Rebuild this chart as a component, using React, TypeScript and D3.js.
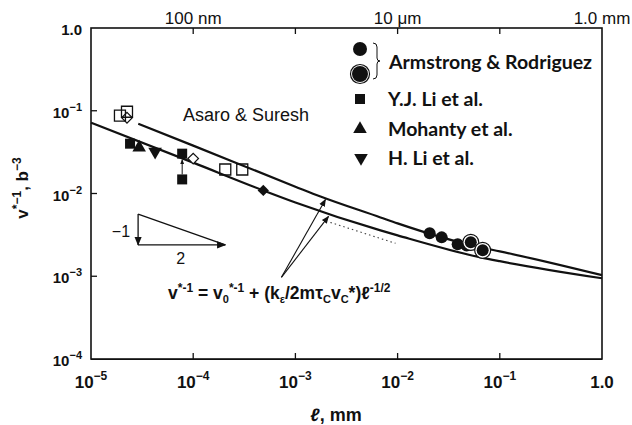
import React from 'react';
import * as d3 from 'd3';

const W = 632;
const H = 425;

// values: [ℓ (mm), v*^-1 (b^-3)]
const armstrongFilled = [[0.0206, 0.0033], [0.027, 0.00295], [0.0387, 0.00243], [0.0474, 0.00236]];
const armstrongRinged = [[0.052, 0.00257], [0.068, 0.00206]];
const yjLi = [[2.41e-5, 0.04], [7.8e-5, 0.0303], [7.8e-5, 0.0148]];
const mohanty = [[2.96e-5, 0.0358]];
const hLi = [[4.24e-5, 0.0321]];
const asaroSquares = [[1.92e-5, 0.0871], [2.25e-5, 0.0973], [2.06e-4, 0.0195], [3.02e-4, 0.0195]];
const asaroDiamonds = [[2.25e-5, 0.0823], [1.0e-4, 0.0264]];
const filledDiamonds = [[4.85e-4, 0.0109]];

const upperCurve = [[2.9e-5, 0.0697], [1e-4, 0.0379], [1e-3, 0.0121], [1.76e-3, 0.0092], [6.8e-3, 0.00514],
  [1e-2, 0.00435], [0.065, 0.00223], [0.1, 0.002], [1.0, 0.00103]];
const lowerCurve = [[1e-5, 0.0717], [1e-4, 0.0236], [4.85e-4, 0.0109], [1e-3, 0.0078], [6.8e-3, 0.00358],
  [1e-2, 0.00312], [0.065, 0.00169], [0.1, 0.00152], [1.0, 0.000946]];

// annotation lines, also in data units
const arrowFrom = [7.3e-4, 9.7e-4];
const arrowTips = [[1.97e-3, 8.47e-3], [2.11e-3, 5.28e-3]];
const dottedLine = [[2.2e-3, 4.47e-3], [9.55e-3, 2.5e-3]];
const slopeTri = { top: [2.89e-5, 0.00565], corner: [2.89e-5, 0.00239], right: [2.06e-4, 0.00239] };

const xTicks = [1e-5, 1e-4, 1e-3, 1e-2, 1e-1, 1];
const xTickLabels = [['10', '−5'], ['10', '−4'], ['10', '−3'], ['10', '−2'], ['10', '−1'], ['1.0', '']];
const yTicks = [1, 1e-1, 1e-2, 1e-3, 1e-4];
const yTickLabels = [['1.0', ''], ['10', '−1'], ['10', '−2'], ['10', '−3'], ['10', '−4']];
const innerXTicks = [1e-4, 1e-3, 1e-2, 1e-1];
const innerYTicks = [1e-1, 1e-2, 1e-3];
const topLabels = [[1e-4, '100 nm'], [1e-2, '10 μm'], [1, '1.0 mm']];

const legendNames = ['Armstrong & Rodriguez', 'Y.J. Li et al.', 'Mohanty et al.', 'H. Li et al.'];

const ARIAL = "'Liberation Sans', Arial, sans-serif";

export default function App() {
  const x = d3.scaleLog().domain([1e-5, 1]).range([91, 602]);
  const y = d3.scaleLog().domain([1e-4, 1]).range([359, 28]);
  const line = d3.line<number[]>().x(d => x(d[0])).y(d => y(d[1])).curve(d3.curveMonotoneX);

  const sq = (s: number) => d3.symbol().type(d3.symbolSquare).size(s * s)()!;
  const tri = d3.symbol().type(d3.symbolTriangle).size(80)()!;
  const ink = '#111';

  const pt = (d: number[]) => `translate(${x(d[0])},${y(d[1])})`;

  const legendX = 360;
  const textX = 388;
  const rowY = [62, 99, 129, 158];

  return (
    <svg width={W} height={H} style={{ position: 'absolute', left: 0, top: 0, background: '#fff' }}>
      <defs>
        <marker id="ah" viewBox="0 0 10 10" refX="9" refY="5" markerWidth="7" markerHeight="7" orient="auto">
          <path d="M0,1 L10,5 L0,9 Z" fill={ink} />
        </marker>
        <marker id="ahs" viewBox="0 0 10 10" refX="9" refY="5" markerWidth="5" markerHeight="5" orient="auto">
          <path d="M0,1 L10,5 L0,9 Z" fill={ink} />
        </marker>
      </defs>
      <rect width={W} height={H} fill="#fff" />

      {/* frame */}
      <rect x={x(1e-5)} y={y(1)} width={x(1) - x(1e-5)} height={y(1e-4) - y(1)} fill="none" stroke={ink} strokeWidth={1.6} />
      <line x1={x(1e-5)} x2={x(1)} y1={y(1e-4) + 0.5} y2={y(1e-4) + 0.5} stroke={ink} strokeWidth={1.2} />
      {innerXTicks.map(t => (
        <g key={'xt' + t}>
          <line x1={x(t)} x2={x(t)} y1={y(1e-4)} y2={y(1e-4) - 6} stroke={ink} strokeWidth={1.3} />
          <line x1={x(t)} x2={x(t)} y1={y(1)} y2={y(1) + 6} stroke={ink} strokeWidth={1.3} />
        </g>
      ))}
      {innerYTicks.map(t => (
        <line key={'yt' + t} x1={x(1e-5)} x2={x(1e-5) + 6} y1={y(t)} y2={y(t)} stroke={ink} strokeWidth={1.3} />
      ))}

      {/* bottom tick labels */}
      {xTicks.map((t, i) => (
        <text key={'xl' + t} x={x(t)} y={388} textAnchor="middle" fontFamily={ARIAL} fontWeight="bold" fontSize={17} fill={ink}>
          {xTickLabels[i][0]}
          {xTickLabels[i][1] && <tspan fontSize={12} dy={-8}>{xTickLabels[i][1]}</tspan>}
        </text>
      ))}
      {/* left tick labels */}
      {yTicks.map((t, i) => (
        <text key={'yl' + t} x={82} y={y(t) + 7} textAnchor="end" fontFamily={ARIAL} fontWeight="bold" fontSize={15} fill={ink}>
          {yTickLabels[i][0]}
          {yTickLabels[i][1] && <tspan fontSize={11} dy={-7}>{yTickLabels[i][1]}</tspan>}
        </text>
      ))}
      {/* top labels */}
      {topLabels.map(([t, s]) => (
        <text key={'tl' + s} x={x(t as number)} y={24} textAnchor="middle" fontFamily={ARIAL} fontSize={17} fill={ink}>{s}</text>
      ))}

      {/* axis titles */}
      <text x={336} y={421} textAnchor="middle" fontFamily={ARIAL} fontWeight="bold" fontSize={18} fill={ink}>
        <tspan fontStyle="italic">ℓ</tspan>, mm
      </text>
      <text transform="translate(28,188) rotate(-90)" textAnchor="middle" fontFamily={ARIAL} fontWeight="bold" fontSize={17} fill={ink}>
        v<tspan fontSize={12} dy={-7}>*−1</tspan><tspan dy={7}>, b</tspan><tspan fontSize={12} dy={-7}>−3</tspan>
      </text>

      {/* fitted curves */}
      <path d={line(upperCurve)!} fill="none" stroke={ink} strokeWidth={2.2} />
      <path d={line(lowerCurve)!} fill="none" stroke={ink} strokeWidth={2.2} />
      <path d={line(dottedLine)!} fill="none" stroke="#444" strokeWidth={1.1} strokeDasharray="1.5,3" />

      {/* arrows to the curves */}
      {arrowTips.map((d, i) => (
        <line key={'ar' + i} x1={x(arrowFrom[0])} y1={y(arrowFrom[1])} x2={x(d[0])} y2={y(d[1])} stroke={ink} strokeWidth={1.1} markerEnd="url(#ah)" />
      ))}

      {/* slope triangle */}
      <line x1={x(slopeTri.top[0])} y1={y(slopeTri.top[1])} x2={x(slopeTri.corner[0])} y2={y(slopeTri.corner[1])} stroke={ink} strokeWidth={1.3} markerEnd="url(#ah)" />
      <line x1={x(slopeTri.corner[0])} y1={y(slopeTri.corner[1])} x2={x(slopeTri.right[0])} y2={y(slopeTri.right[1])} stroke={ink} strokeWidth={1.3} markerEnd="url(#ah)" />
      <line x1={x(slopeTri.top[0])} y1={y(slopeTri.top[1])} x2={x(slopeTri.right[0])} y2={y(slopeTri.right[1])} stroke={ink} strokeWidth={1.3} />
      <text x={x(slopeTri.corner[0]) - 8} y={y(slopeTri.top[1]) + 23} textAnchor="end" fontFamily={ARIAL} fontSize={16} fill={ink}>−1</text>
      <text x={(x(slopeTri.corner[0]) + x(slopeTri.right[0])) / 2 - 1} y={y(slopeTri.corner[1]) + 19} textAnchor="middle" fontFamily={ARIAL} fontSize={16} fill={ink}>2</text>

      <text x={183} y={121} fontFamily={ARIAL} fontSize={18} fill={ink}>Asaro &amp; Suresh</text>

      {/* formula */}
      <text x={168} y={299} fontFamily={ARIAL} fontWeight="bold" fontSize={17.5} fill={ink}>
        v<tspan fontSize={12} dy={-7}>*-1</tspan>
        <tspan dy={7}> = v</tspan><tspan fontSize={11} dy={4}>0</tspan><tspan fontSize={12} dy={-11}>*-1</tspan>
        <tspan dy={7}> + (k</tspan><tspan fontSize={11} dy={4}>ε</tspan><tspan dy={-4}>/2mτ</tspan>
        <tspan fontSize={11} dy={4}>C</tspan><tspan dy={-4}>v</tspan><tspan fontSize={11} dy={4}>C</tspan>
        <tspan dy={-4}>*)ℓ</tspan><tspan fontSize={12} dy={-7}>-1/2</tspan>
      </text>

      {/* data markers */}
      <line x1={x(yjLi[2][0])} y1={y(yjLi[2][1]) - 5} x2={x(yjLi[1][0])} y2={y(yjLi[1][1]) + 6} stroke={ink} strokeWidth={1} markerEnd="url(#ahs)" />
      {asaroSquares.map((d, i) => (
        <path key={'as' + i} d={sq(11)} transform={pt(d)} fill="none" stroke={ink} strokeWidth={1.3} />
      ))}
      {asaroDiamonds.map((d, i) => (
        <path key={'ad' + i} d={sq(7.5)} transform={pt(d) + ' rotate(45)'} fill="#fff" fillOpacity={i === 0 ? 0 : 1} stroke={ink} strokeWidth={1.2} />
      ))}
      {filledDiamonds.map((d, i) => (
        <path key={'fd' + i} d={sq(8)} transform={pt(d) + ' rotate(45)'} fill={ink} />
      ))}
      {yjLi.map((d, i) => (
        <path key={'yj' + i} d={sq(10)} transform={pt(d)} fill={ink} />
      ))}
      {mohanty.map((d, i) => (
        <path key={'mo' + i} d={tri} transform={pt(d)} fill={ink} />
      ))}
      {hLi.map((d, i) => (
        <path key={'hl' + i} d={tri} transform={pt(d) + ' rotate(180)'} fill={ink} />
      ))}
      {armstrongFilled.map((d, i) => (
        <circle key={'af' + i} cx={x(d[0])} cy={y(d[1])} r={6} fill={ink} />
      ))}
      {armstrongRinged.map((d, i) => (
        <g key={'ar' + i}>
          <circle cx={x(d[0])} cy={y(d[1])} r={8} fill="#fff" stroke={ink} strokeWidth={1.2} />
          <circle cx={x(d[0])} cy={y(d[1])} r={6} fill={ink} />
        </g>
      ))}

      {/* legend */}
      <circle cx={legendX} cy={49} r={7} fill={ink} />
      <circle cx={legendX} cy={74} r={9.5} fill="#fff" stroke={ink} strokeWidth={1.2} />
      <circle cx={legendX} cy={74} r={8} fill={ink} />
      <path d="M373,43 q4,0 4,4 v11 q0,3 3,3 q-3,0 -3,3 v11 q0,4 -4,4" fill="none" stroke={ink} strokeWidth={1} />
      <path d={sq(10)} transform={`translate(${legendX},${rowY[1]})`} fill={ink} />
      <path d={tri} transform={`translate(${legendX},${rowY[2]})`} fill={ink} />
      <path d={tri} transform={`translate(${legendX + 1},${rowY[3]}) rotate(180)`} fill={ink} />
      {legendNames.map((n, i) => (
        <text key={n} x={textX + (i === 0 ? 1 : 0)} y={rowY[i] + 7} fontFamily="Lato, sans-serif" fontWeight="bold" fontSize={19.5} fill={ink}>{n}</text>
      ))}
    </svg>
  );
}
